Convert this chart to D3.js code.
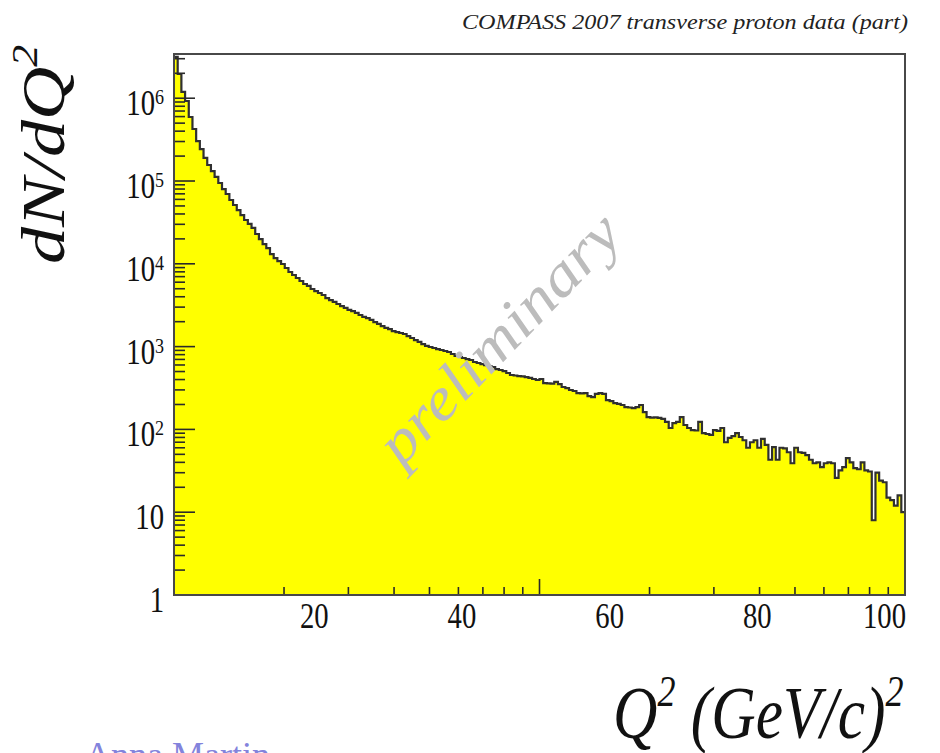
<!DOCTYPE html>
<html>
<head>
<meta charset="utf-8">
<script src="https://cdn.jsdelivr.net/npm/d3@7"></script>
<style>
  html, body { margin: 0; padding: 0; background: #fff; }
  svg { display: block; }
</style>
</head>
<body>
<svg id="chart" width="940" height="753"></svg>
<script>
// Q^2 distribution, 0.5 GeV^2 wide bins from 1 to 100 (GeV/c)^2
const q2Range = [1, 100];
const counts = [
  3150000, 1960000, 1190000, 925000, 593000, 425000, 304000, 243000, 190000, 156000,
  132000, 112000, 94600, 80000, 69700, 59000, 51300, 44600, 38800, 33800,
  30300, 27100, 22900, 19900, 17300, 15500, 13100, 11700, 10800, 9950,
  8900, 7960, 7330, 6740, 6200, 5700, 5400, 4960, 4690, 4440,
  4200, 3860, 3650, 3460, 3270, 3090, 2930, 2770, 2690, 2550,
  2410, 2280, 2210, 2100, 1980, 1880, 1770, 1680, 1630, 1540,
  1500, 1460, 1420, 1340, 1270, 1200, 1140, 1070, 1020, 989,
  962, 935, 910, 885, 861, 814, 770, 749, 728, 708,
  689, 652, 634, 616, 599, 583, 567, 536, 522, 507,
  480, 454, 448, 441, 438, 429, 418, 406, 395, 406,
  363, 360, 358, 374, 353, 325, 316, 299, 291, 275,
  272, 275, 253, 246, 268, 275, 268, 226, 220, 208,
  203, 197, 186, 184, 181, 186, 197, 162, 141, 139,
  140, 138, 134, 123, 104, 119, 123, 141, 113, 104,
  98, 97, 123, 90, 88, 86, 98, 96, 104, 70,
  79, 83, 90, 81, 74, 60, 70, 74, 60, 77,
  65, 43, 61, 43, 60, 59, 53, 39, 60, 53,
  52, 49, 43, 39, 40, 35, 39, 40, 39, 26,
  32, 35, 45, 40, 34, 33, 40, 32, 31, 8,
  30, 24, 23, 15, 14, 12, 16, 10
];
const yTickExponents = [0, 1, 2, 3, 4, 5, 6];
const xTickLabels = [20, 40, 60, 80, 100];
const countMax = 3.42e6;
const titleText = "COMPASS 2007 transverse proton data (part)";
const watermarkText = "preliminary";
const footerText = "Anna Martin";

const svg = d3.select("#chart");
const frame = { left: 174, right: 905, top: 54, bottom: 595 };
const SX = 0.82;              // horizontal compression of all lettering
const serif = "'Liberation Serif', 'Times New Roman', Times, serif";

const x = d3.scaleLinear().domain(q2Range).range([frame.left, frame.right]);
const xTicks = d3.scaleLog().domain(q2Range).range([frame.left, frame.right]);
const y = d3.scaleLog().domain([1, countMax]).range([frame.bottom, frame.top]);

// plot area
svg.append("rect")
  .attr("x", frame.left).attr("y", frame.top)
  .attr("width", frame.right - frame.left).attr("height", frame.bottom - frame.top)
  .attr("fill", "#fff");

// histogram bins
const binW = (q2Range[1] - q2Range[0]) / counts.length;
const bins = counts.map((c, i) => ({
  x0: q2Range[0] + i * binW,
  x1: q2Range[0] + (i + 1) * binW,
  c: Math.max(c, 1)
}));

const stepPts = [];
bins.forEach(b => { stepPts.push([x(b.x0), y(b.c)]); stepPts.push([x(b.x1), y(b.c)]); });

const fillPath = d3.path();
fillPath.moveTo(x(q2Range[0]), y(1));
stepPts.forEach(p => fillPath.lineTo(p[0], p[1]));
fillPath.lineTo(x(q2Range[1]), y(1));
fillPath.closePath();
svg.append("path").attr("d", fillPath.toString()).attr("fill", "#ffff00");

const outline = d3.line()(stepPts);
svg.append("path").attr("d", outline)
  .attr("fill", "none").attr("stroke", "#303030").attr("stroke-width", 2.2)
  .attr("stroke-linejoin", "miter");

// y axis ticks (log)
const yAxisG = svg.append("g");
const yMinor = [];
for (let e = 0; e <= 6; e++) for (let m = 1; m <= 9; m++) {
  const v = m * Math.pow(10, e);
  if (v <= countMax) yMinor.push(v);
}
yAxisG.selectAll("line").data(yMinor).join("line")
  .attr("x1", frame.left)
  .attr("x2", d => frame.left + (Math.abs(Math.log10(d) - Math.round(Math.log10(d))) < 1e-9 ? 21 : 11))
  .attr("y1", d => y(d)).attr("y2", d => y(d))
  .attr("stroke", "#2a2a2a").attr("stroke-width", 1.6);

// x axis ticks
const xTickVals = xTicks.ticks();
svg.append("g").selectAll("line").data(xTickVals.filter(v => v > q2Range[0])).join("line")
  .attr("x1", d => xTicks(d)).attr("x2", d => xTicks(d))
  .attr("y1", frame.bottom)
  .attr("y2", d => frame.bottom - ([10, 100].includes(d) ? 16 : 8))
  .attr("stroke", "#2a2a2a").attr("stroke-width", 1.6);

// frame
svg.append("rect")
  .attr("x", frame.left).attr("y", frame.top)
  .attr("width", frame.right - frame.left).attr("height", frame.bottom - frame.top)
  .attr("fill", "none").attr("stroke", "#484848").attr("stroke-width", 2);

// lettering helper: text placed in a horizontally compressed group
function label(px, py, extra) {
  return svg.append("g")
    .attr("transform", `translate(${px},${py}) scale(${SX},1)` + (extra || ""))
    .append("text")
    .style("font-family", serif)
    .attr("fill", "#111");
}

// y tick labels
yTickExponents.forEach(e => {
  const t = label(164, y(Math.pow(10, e)) + 17)
    .attr("font-size", 35).attr("text-anchor", "end");
  if (e === 0) t.text("1");
  else if (e === 1) t.text("10");
  else {
    t.append("tspan").text("10");
    t.append("tspan").attr("font-size", 22).attr("dy", -11).text(String(e));
  }
});

// x tick labels (the last one kept inside the frame)
xTickLabels.forEach(v => {
  const last = v === q2Range[1];
  label(last ? frame.right + 1 : x(v), 628)
    .attr("font-size", 35).attr("text-anchor", last ? "end" : "middle").text(String(v));
});

// y axis title
{
  const t = label(64, 264, " rotate(-90)")
    .attr("font-size", 74).attr("font-style", "italic");
  t.append("tspan").text("dN/dQ");
  t.append("tspan").attr("font-size", 44).attr("dy", -33).text("2");
}

// x axis title
{
  const t = label(613, 738).attr("font-size", 75).attr("font-style", "italic");
  t.append("tspan").text("Q");
  t.append("tspan").attr("font-size", 44).attr("dy", -32).text("2");
  t.append("tspan").attr("dy", 32).text(" (GeV/c)");
  t.append("tspan").attr("font-size", 44).attr("dy", -32).text("2");
}

// title
svg.append("text")
  .attr("x", 462).attr("y", 29)
  .style("font-family", serif).attr("font-style", "italic").attr("font-size", 21)
  .attr("textLength", 446).attr("lengthAdjust", "spacingAndGlyphs")
  .attr("fill", "#222")
  .text(titleText);

// watermark
svg.append("text")
  .attr("transform", "translate(513,352) rotate(-46)")
  .attr("text-anchor", "middle")
  .style("font-family", serif).attr("font-style", "italic").attr("font-size", 60)
  .attr("textLength", 322).attr("lengthAdjust", "spacingAndGlyphs")
  .attr("fill", "#bcbcbc")
  .text(watermarkText);

// footer line, running off the bottom of the page
svg.append("text")
  .attr("x", 85).attr("y", 767)
  .style("font-family", serif).attr("font-size", 36)
  .attr("fill", "#8383dc")
  .text(footerText);
</script>
</body>
</html>
